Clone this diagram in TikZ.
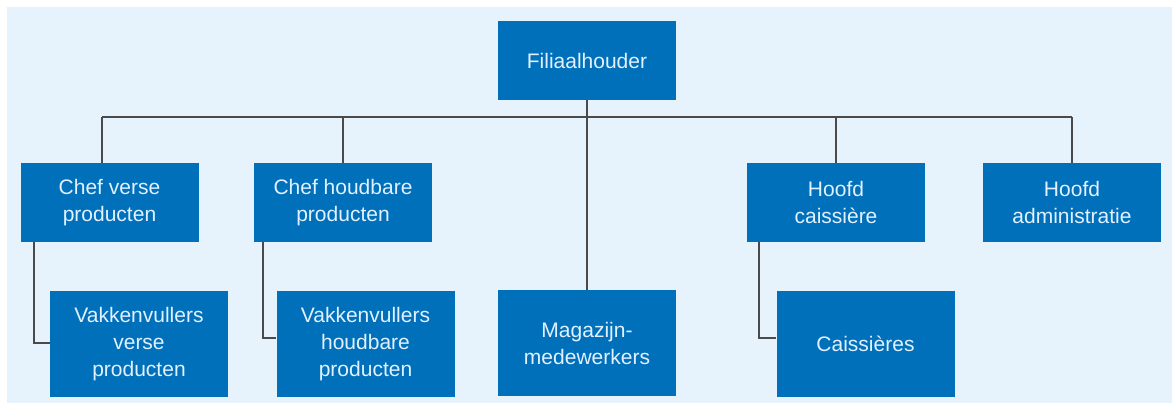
\documentclass[tikz,border=0pt]{standalone}
\usepackage{fontspec}
\setmainfont{Liberation Sans}
\usepackage{tikz}
\usetikzlibrary{positioning}
\definecolor{boxblue}{HTML}{0070BA}
\definecolor{boxtext}{HTML}{E2F1FF}
\definecolor{paleblue}{HTML}{E6F3FC}
\definecolor{linegray}{HTML}{4A4A4A}

\begin{document}
\begin{tikzpicture}[x=.5pt,y=-.5pt,
    box/.style={fill=boxblue,text=boxtext,align=center,inner sep=0pt,
        font=\fontsize{10.5}{13.3}\selectfont,minimum width=89pt,minimum height=39.5pt},
    tallbox/.style={box,minimum height=53pt},
    link/.style={draw=linegray,line width=.8pt}]
            \useasboundingbox (0,0) rectangle (1172,405);
            \fill[paleblue] (7,7) rectangle (1172,403);

            % top
            \node[box] (boss) at (587,60.5) {Filiaalhouder};

            % chefs
            \node[box] (cv) at (109.5,202.5) {Chef verse\\producten};
            \node[box] (ch) at (343,202.5) {Chef houdbare\\producten};
            \node[box] (hc) at (836,202.5) {Hoofd\\caissière};
            \node[box] (ha) at (1072,202.5) {Hoofd\\administratie};

            % staff
            \node[tallbox] (vv) at (139,344) {Vakkenvullers\\verse\\producten};
            \node[tallbox] (vh) at (365.5,344) {Vakkenvullers\\houdbare\\producten};
            \node[tallbox] (mag) at (587,343.5) {Magazijn-\\medewerkers};
            \node[tallbox] (cs) at (865.5,344) {Caissières};

            % bus
            \coordinate (busL) at (102,117);
            \coordinate (busR) at (1072,117);
            \draw[link] (busL) -- (busR);
            \draw[link] (boss.south) -- (mag.north);
            \draw[link] (busL) -- (busL |- cv.north);
            \foreach \n in {ch,hc,ha}
                \draw[link] (\n.north |- busL) -- (\n.north);

            % sub links
            \draw[link] (cv.south -| 34,0) |- ([yshift=.5pt]vv.west);
            \draw[link] (ch.south -| 263,0) |- ([yshift=3pt]vh.west);
            \draw[link] (hc.south -| 759,0) |- ([yshift=3pt]cs.west);
        \end{tikzpicture}
\end{document}
